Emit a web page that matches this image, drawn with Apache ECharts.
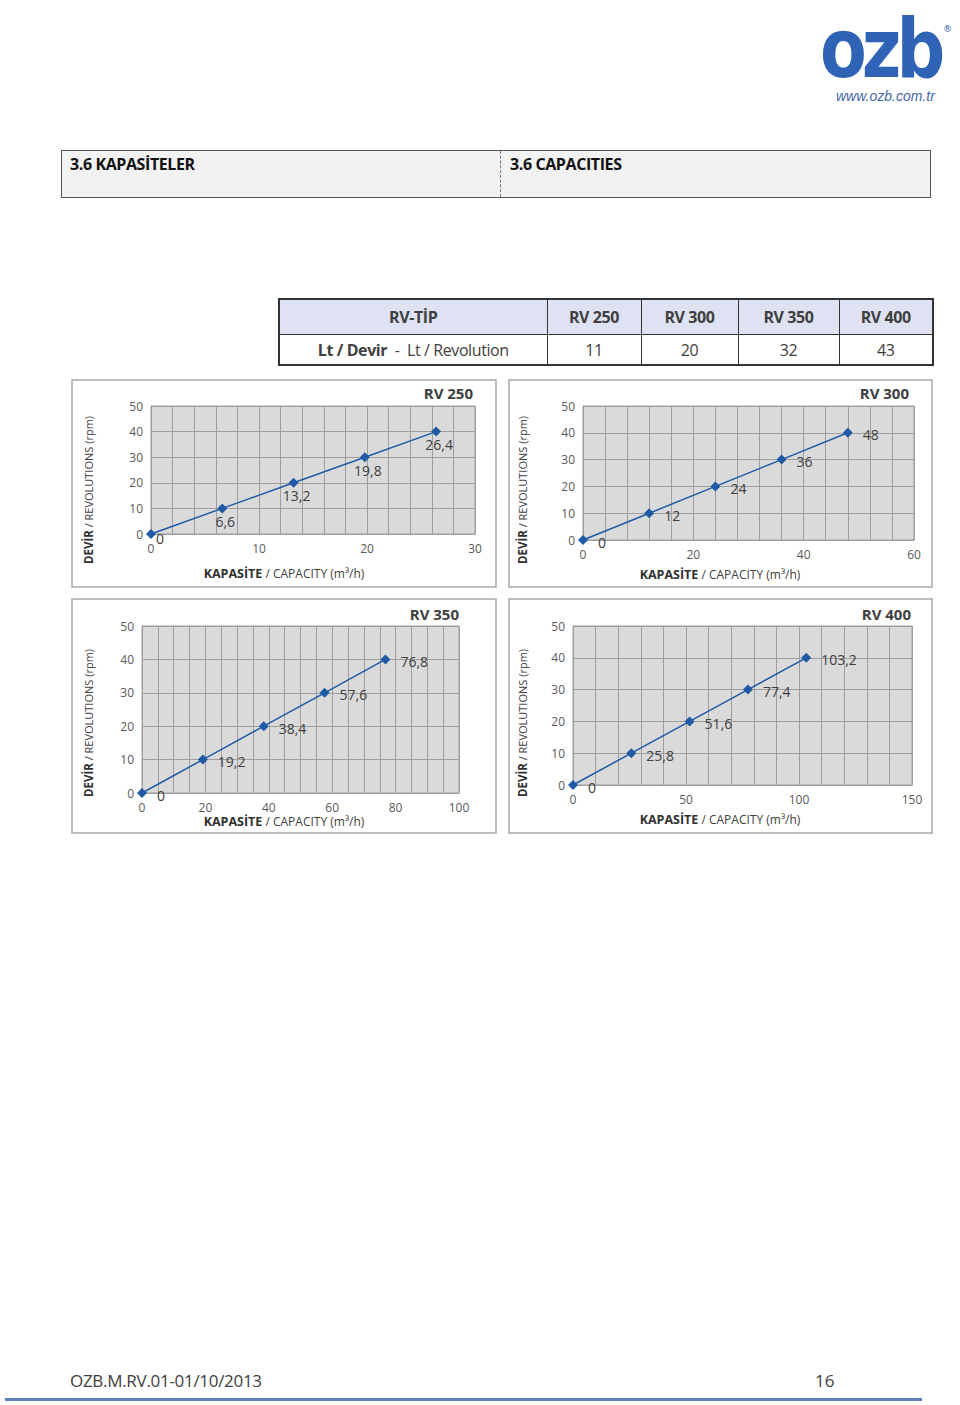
<!DOCTYPE html>
<html><head><meta charset="utf-8">
<script src="https://cdn.jsdelivr.net/npm/echarts@6/dist/echarts.min.js"></script>
<style>
html,body{margin:0;padding:0;background:#fff;}
#page{position:relative;width:960px;height:1405px;overflow:hidden;font-family:"Open Sans","Noto Sans",sans-serif;color:#404040;}
#chart{position:absolute;left:0;top:0;width:960px;height:1405px;}
.abs{position:absolute;}
#hdr{left:61px;top:150px;width:868px;height:46px;background:#f2f2f2;border:1px solid #555;}
#hdr .c{position:absolute;top:2px;font-weight:bold;font-size:16px;letter-spacing:-0.4px;color:#111;}
#hdr .div{position:absolute;left:438px;top:0;width:0;height:46px;border-left:1px dashed #777;}
#tbl{left:278px;top:298px;width:654px;table-layout:fixed;border-collapse:collapse;border:2px solid #333;font-size:16px;letter-spacing:-0.4px;}
#tbl td{border:1px solid #333;text-align:center;padding:0;color:#404040;white-space:nowrap;overflow:hidden;}
#tbl tr.h td{background:#dfe2f2;height:34px;font-weight:bold;}
#tbl tr.v td{background:#fff;height:29px;}
#logo{left:820px;top:1px;font-family:"DejaVu Sans",sans-serif;font-weight:bold;font-size:82px;color:#2f63b6;letter-spacing:-6px;line-height:normal;transform:scale(0.83,1);transform-origin:0 0;white-space:nowrap;}
#reg{left:943px;top:24px;font-size:9px;line-height:10px;color:#2f63b6;font-family:"DejaVu Sans",sans-serif;}
#url{left:836px;top:89px;font-family:"Liberation Sans",Arial,sans-serif;font-style:italic;font-size:14px;line-height:14px;color:#3f68a8;}
#foot1{left:70px;top:1369px;font-size:17px;letter-spacing:-0.3px;color:#404040;}
#foot2{left:815px;top:1369px;font-size:17px;color:#404040;}
#fline{left:5px;top:1398px;width:917px;height:3px;background:#5b80b8;}
</style></head>
<body><div id="page"><div id="chart"></div>
<div id="logo" class="abs">ozb</div>
<div id="reg" class="abs">®</div>
<div id="url" class="abs">www.ozb.com.tr</div>
<div id="hdr" class="abs"><span class="c" style="left:8px">3.6 KAPASİTELER</span><div class="div"></div><span class="c" style="left:448px">3.6 CAPACITIES</span></div>
<table id="tbl" class="abs"></table>
<div id="foot1" class="abs">OZB.M.RV.01-01/10/2013</div>
<div id="foot2" class="abs">16</div>
<div id="fline" class="abs"></div>
</div>
<script>
// ---- data ----
const revolutions = [0, 10, 20, 30, 40];
const capRV250 = [0, 6.6, 13.2, 19.8, 26.4];
const capRV300 = [0, 12, 24, 36, 48];
const capRV350 = [0, 19.2, 38.4, 57.6, 76.8];
const capRV400 = [0, 25.8, 51.6, 77.4, 103.2];
const models = ['RV 250', 'RV 300', 'RV 350', 'RV 400'];
const litresPerRev = [11, 20, 32, 43];
const xMax = [30, 60, 100, 150];
const xMajor = [10, 20, 20, 50];
const xMinorSplits = [5, 5, 4, 5];
const yMax = 50, yStep = 10;

// ---- table ----
const colW = [268, 94, 97, 101, 94];
let html = '<colgroup>' + colW.map(w => '<col style="width:' + w + 'px">').join('') + '</colgroup>';
html += '<tr class="h"><td>RV-TİP</td>';
models.forEach(m => html += '<td>' + m + '</td>');
html += '</tr><tr class="v"><td><b>Lt / Devir</b> &nbsp;- &nbsp;Lt / Revolution</td>';
litresPerRev.forEach(v => html += '<td>' + v + '</td>');
html += '</tr>';
document.getElementById('tbl').innerHTML = html;

// ---- charts ----
const caps = [capRV250, capRV300, capRV350, capRV400];
const grids = [
  {left: 151, top: 406, width: 324, height: 128},
  {left: 583, top: 406, width: 331, height: 134},
  {left: 142, top: 626, width: 317, height: 167},
  {left: 573, top: 626, width: 339, height: 159}
];
const boxes = [[72, 380, 424, 207], [509, 380, 423, 207], [72, 599, 424, 234], [509, 599, 423, 234]];
const titlePos = [[473, 385], [909, 385], [459, 606], [911, 606]];
const xNameGap = [33, 28, 22, 28];
const xNamePad = [58, 57, 33, 45];
const yNameGap = [57, 55, 48, 45];
const yNamePad = [40, 34, 27, 35];
const labelPos = ['bottom', 'right', 'right', 'right'];
const gridColor = '#9e9e9e';
const fam = '"Open Sans","Noto Sans",sans-serif';
const fmt = v => String(v).replace('.', ',');

function pointLabel(i, k) {
  if (labelPos[i] === 'bottom') {
    return k === 0 ? {offset: [9, -9]} : {offset: [3, 0]};
  }
  return {offset: [0, 2]};
}

const chart = echarts.init(document.getElementById('chart'), null, {renderer: 'svg'});
const option = {
  animation: false,
  textStyle: {fontFamily: fam},
  grid: grids.map(g => Object.assign({show: true, backgroundColor: '#dadada', borderColor: gridColor, borderWidth: 1, containLabel: false}, g)),
  title: models.map((m, i) => ({
    text: m, right: 960 - titlePos[i][0], top: titlePos[i][1],
    padding: 0,
    textStyle: {fontSize: 15, fontWeight: 'bold', color: '#404040', fontFamily: fam}
  })),
  xAxis: caps.map((c, i) => ({
    gridIndex: i, type: 'value', min: 0, max: xMax[i], interval: xMajor[i],
    axisLine: {show: true, lineStyle: {color: gridColor}},
    axisTick: {show: false},
    minorTick: {show: false, splitNumber: xMinorSplits[i]},
    splitLine: {show: true, lineStyle: {color: gridColor, width: 1}},
    minorSplitLine: {show: true, lineStyle: {color: gridColor, width: 1}},
    axisLabel: {color: '#595959', fontSize: 12, margin: 8, fontFamily: fam},
    name: '{b|KAPASİTE} / CAPACITY (m³/h)', nameLocation: 'middle', nameGap: xNameGap[i],
    nameTextStyle: {color: '#404040', fontSize: 12, fontFamily: fam, padding: [0, xNamePad[i], 0, 0],
      rich: {b: {fontWeight: 'bold', fontSize: 12.5, color: '#303030', fontFamily: fam}}}
  })),
  yAxis: caps.map((c, i) => ({
    gridIndex: i, type: 'value', min: 0, max: yMax, interval: yStep,
    axisLine: {show: true, lineStyle: {color: gridColor}},
    axisTick: {show: false},
    splitLine: {show: true, lineStyle: {color: gridColor, width: 1}},
    axisLabel: {color: '#595959', fontSize: 12, margin: 8, fontFamily: fam},
    name: '{b|DEVİR} / REVOLUTIONS (rpm)', nameLocation: 'middle', nameGap: yNameGap[i], nameRotate: 90,
    nameTextStyle: {color: '#404040', fontSize: 11, fontFamily: fam, padding: [0, yNamePad[i], 0, 0],
      rich: {b: {fontWeight: 'bold', fontSize: 11.5, color: '#303030', fontFamily: fam}}}
  })),
  series: caps.map((c, i) => ({
    type: 'line', xAxisIndex: i, yAxisIndex: i,
    data: c.map((v, k) => ({value: [v, revolutions[k]], label: pointLabel(i, k)})),
    symbol: 'diamond', symbolSize: 10,
    lineStyle: {color: '#1f5aa6', width: 1.5},
    itemStyle: {color: '#1f5aa6'},
    label: {show: true, position: labelPos[i], distance: labelPos[i] === 'bottom' ? 1 : 10,
      formatter: p => fmt(p.value[0]), color: '#404040', fontSize: 14, fontFamily: fam}
  })),
  graphic: boxes.map(b => ({
    type: 'rect', silent: true, z: -10,
    shape: {x: b[0], y: b[1], width: b[2], height: b[3]},
    style: {fill: '#fff', stroke: '#a8a8a8', lineWidth: 1.5}
  }))
};
chart.setOption(option);
</script>
</body></html>
